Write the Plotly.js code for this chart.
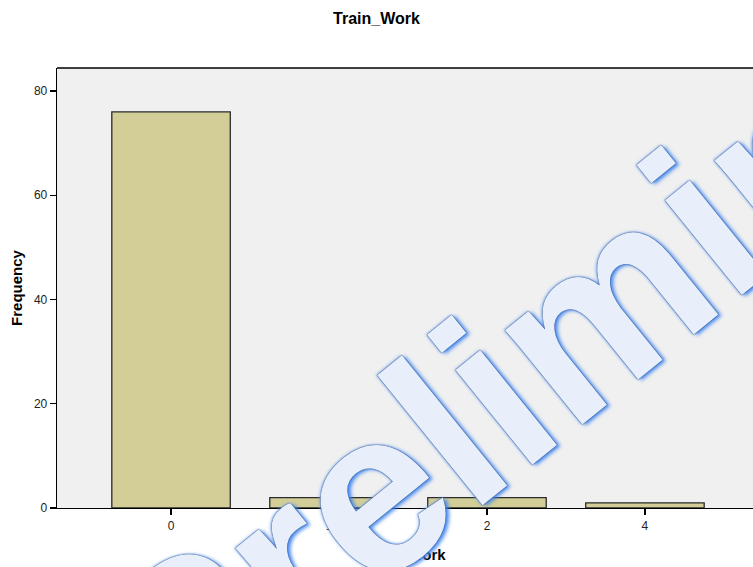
<!DOCTYPE html>
<html>
<head>
<meta charset="utf-8">
<script src="https://cdn.plot.ly/plotly-3.0.1.min.js"></script>
<style>html,body{margin:0;padding:0;background:#fff;}#chart{width:753px;height:567px;}</style>
</head>
<body>
<div id="chart"></div>
<script>
// Data
const categories = ["0", "1", "2", "4"];
const frequencies = [76, 2, 2, 1];
const chartTitle = "Train_Work";
const xTitle = "Train_Work";
const yTitle = "Frequency";
const yTickVals = [0, 20, 40, 60, 80];
const watermarkText = "Preliminary";

const positions = categories.map((c, i) => i);

const trace = {
  type: "bar",
  x: positions,
  y: frequencies,
  width: 0.75,
  marker: {color: "#d3ce97", line: {color: "#2b2b2b", width: 1.3}},
  hoverinfo: "y"
};

const layout = {
  width: 753, height: 567,
  margin: {l: 57, r: 0, t: 68, b: 59},
  paper_bgcolor: "#ffffff",
  plot_bgcolor: "#f0f0f0",
  showlegend: false,
  font: {family: "Liberation Sans, Arial, sans-serif", color: "#222"},
  title: {text: "<b>" + chartTitle + "</b>", x: 0.5, xanchor: "center", y: 0.968, yanchor: "middle",
          font: {size: 16, color: "#000", family: "Liberation Sans, Arial, sans-serif"}},
  xaxis: {
    range: [-0.722, 3.684],
    tickmode: "array", tickvals: positions, ticktext: categories,
    showgrid: false, zeroline: false,
    showline: true, linecolor: "#000", linewidth: 1.3,
    ticks: "outside", ticklen: 6, tickcolor: "#000", tickwidth: 1.3,
    tickfont: {size: 12, color: "#222"},
    title: {text: "<b>" + xTitle + "</b>", standoff: 17, font: {size: 15, color: "#000"}},
    fixedrange: true
  },
  yaxis: {
    range: [0, 84.4],
    tickmode: "array", tickvals: yTickVals,
    showgrid: false, zeroline: false,
    showline: true, linecolor: "#000", linewidth: 1.3,
    ticks: "outside", ticklen: 6, tickcolor: "#000", tickwidth: 1.3,
    tickfont: {size: 12, color: "#222"},
    title: {text: "<b>" + yTitle + "</b>", standoff: 7, font: {size: 15, color: "#000"}},
    fixedrange: true
  },
  shapes: [
    {type: "line", xref: "paper", yref: "paper", x0: 0, x1: 1, y0: 1, y1: 1,
     line: {color: "#000", width: 1.3}}
  ],
  annotations: [
    {text: "<b>" + watermarkText + "</b>", xref: "paper", yref: "paper",
     x: 0.807, y: 0.491, xanchor: "center", yanchor: "middle",
     textangle: -39, showarrow: false,
     font: {family: "Liberation Sans, Arial, sans-serif", size: 231, color: "rgba(238,245,255,0.97)",
            shadow: "0 0 1px #1d3a72, 0 0 1px #1d3a72, 2px 3px 4px rgba(60,130,240,0.95), -1px -1px 3px rgba(120,170,245,0.8)"}}
  ]
};

Plotly.newPlot("chart", [trace], layout, {displayModeBar: false, staticPlot: true});
</script>
</body>
</html>
